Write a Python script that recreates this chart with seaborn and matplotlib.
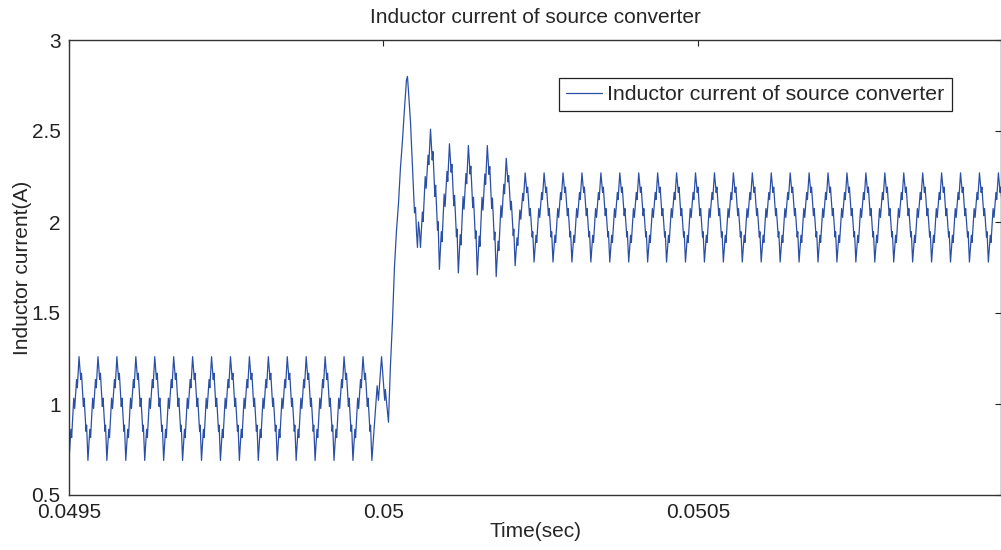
import numpy as np
import seaborn as sns
import matplotlib.pyplot as plt

# one switching period of the ripple (0 = trough, 1 = peak)
cycle_phase = [0.00, 0.10, 0.14, 0.25, 0.30, 0.40, 0.44, 0.53, 0.62, 0.66, 0.76, 0.80, 0.90, 0.93, 1.00]
cycle_shape = [0.00, 0.30, 0.22, 0.60, 0.50, 0.78, 0.70, 1.00, 0.78, 0.84, 0.52, 0.60, 0.28, 0.34, 0.00]
period = 3.01e-5
t_start = 0.0495

# before the step
pre_low, pre_high, n_pre = 0.69, 1.26, 16

# the step itself
step_t = [0.049990, 0.049992, 0.049997, 0.050002, 0.050003, 0.050008, 0.050011,
          0.0500143, 0.0500175, 0.0500207, 0.0500239, 0.0500271, 0.0500303,
          0.0500334, 0.0500366, 0.0500382, 0.0500398, 0.0500430, 0.0500462,
          0.0500494, 0.0500510, 0.0500525, 0.0500541, 0.0500557, 0.0500573]
step_i = [1.10, 1.02, 1.26, 1.02, 1.08, 0.90, 1.20,
          1.45, 1.75, 1.95, 2.10, 2.30, 2.45,
          2.62, 2.78, 2.80, 2.72, 2.55, 2.30,
          2.05, 2.08, 1.95, 1.86, 2.00, 1.95]

# damped ripple after the overshoot
trans_t0 = 0.0500589
trans_lows = [1.86, 1.74, 1.72, 1.71, 1.70, 1.76]
trans_highs = [2.51, 2.43, 2.42, 2.42, 2.35]

# steady state after the step
post_low, post_high, n_post = 1.78, 2.27, 26

xticks = [0.0495, 0.05, 0.0505]
xtick_labels = ["0.0495", "0.05", "0.0505"]
yticks = [0.5, 1, 1.5, 2, 2.5, 3]
ytick_labels = ["0.5", "1", "1.5", "2", "2.5", "3"]


def make_cycles(t0, lows, highs):
    ph = np.array(cycle_phase)
    s = np.array(cycle_shape)
    peak = ph[np.argmax(s)]
    ts, vs = [], []
    for k in range(len(highs)):
        lo = np.where(ph < peak, lows[k], lows[k + 1])
        v = lo + s * (highs[k] - lo)
        tt = t0 + (k + ph) * period
        if k < len(highs) - 1:
            tt, v = tt[:-1], v[:-1]
        ts.append(tt)
        vs.append(v)
    return np.concatenate(ts), np.concatenate(vs)


t1, i1 = make_cycles(t_start, [pre_low] * (n_pre + 1), [pre_high] * n_pre)
t2, i2 = make_cycles(trans_t0, trans_lows, trans_highs)
t3, i3 = make_cycles(t2[-1], [trans_lows[-1]] + [post_low] * n_post, [post_high] * n_post)

t = np.concatenate([t1, step_t, t2, t3[1:]])
i = np.concatenate([i1, step_i, i2, i3[1:]])

sns.set_style("white")
plt.rcParams['font.family'] = ['Liberation Sans', 'DejaVu Sans']
plt.rcParams['font.size'] = 15

fig = plt.figure(figsize=(10.01, 5.5), dpi=100)
ax = fig.add_axes([69 / 1001, 55 / 550, 932 / 1001, 455 / 550])

sns.lineplot(x=t, y=i, ax=ax, color="#2c4fa6", linewidth=0.9,
             estimator=None, sort=False, label="Inductor current of source converter")

ax.set_xlim(0.0495, 0.050982)
ax.set_ylim(0.5, 3)
ax.set_xticks(xticks)
ax.set_xticklabels(xtick_labels)
ax.set_yticks(yticks)
ax.set_yticklabels(ytick_labels)
ax.tick_params(direction="in", length=4, width=0.8, top=True, right=True,
               labelsize=15, pad=6, colors="#222222")
for sp in ax.spines.values():
    sp.set_color("#333333")
    sp.set_linewidth(1.0)
    sp.set_visible(True)

ax.set_title("Inductor current of source converter", fontsize=15, pad=12)
ax.set_xlabel("Time(sec)", fontsize=15, labelpad=0)
ax.set_ylabel("Inductor current(A)", fontsize=15, labelpad=0)

leg = ax.legend(loc="upper right", bbox_to_anchor=(0.947, 0.9165), borderaxespad=0,
                fancybox=False, framealpha=1, edgecolor="#222222", fontsize=15.3,
                handlelength=1.7, handletextpad=0.25, borderpad=0.33)
leg.get_frame().set_linewidth(0.9)

fig.savefig("out.png", dpi=100)
